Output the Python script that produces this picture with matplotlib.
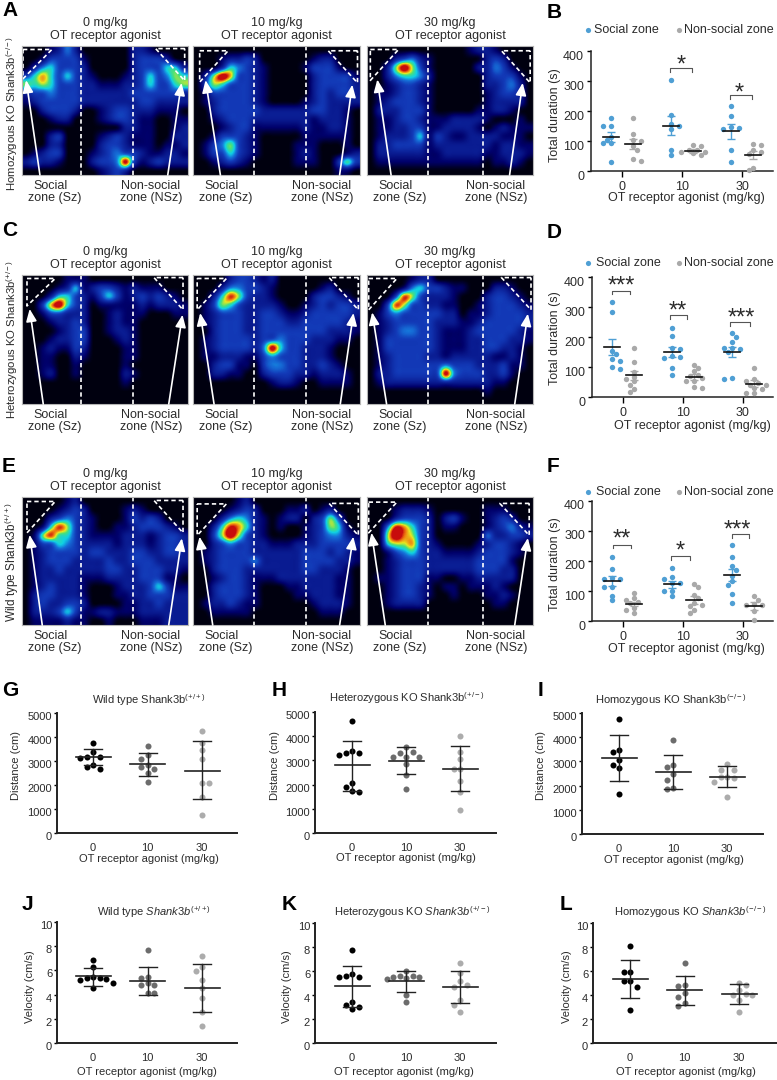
import numpy as np
import matplotlib
matplotlib.use("Agg")
import matplotlib.pyplot as plt
from matplotlib.colors import LinearSegmentedColormap
from matplotlib.transforms import ScaledTranslation

plt.rcParams['font.family'] = ['Liberation Sans', 'DejaVu Sans']
plt.rcParams['mathtext.fontset'] = 'custom'
plt.rcParams['mathtext.rm'] = 'Liberation Sans'
plt.rcParams['mathtext.it'] = 'Liberation Sans:italic'
plt.rcParams['mathtext.default'] = 'regular'

W, H = 777, 1080
TEXT = '#2b2b2b'
BLUE = '#4f9fd4'
GREY = '#a9a9a9'

# occupancy heat maps, read cell by cell, 0 = nothing, 9 = hottest
heat_a0 = ["00012420000002210000", "00133331000002333200", "02453332000002333552",
           "35753532100012353465", "65653332211122353356", "23343332222223333332",
           "12333332222222332222", "00233320012332221110", "00012200012332110011",
           "00000000000022110012", "00023000012321110022", "00022000023321110112",
           "01233000123433211221", "23221000233493123222", "00000000012320000000"]
heat_a10 = ["00000000000000000000", "00012232000000122000", "00025432100001333100",
            "02697332100000233331", "03653332100000233332", "01333332100000232332",
            "01233332100001232222", "00233333222222332210", "00123332222222122210",
            "00012331111112112210", "00133321000001111110", "01346321000011100010",
            "01335321000012100012", "00123210000011100363", "00000000000000000110"]
heat_a30 = ["00000000000012210000", "00023421000000232000", "00269631000002243100",
            "00245542000000233310", "00123321000000223420", "01123321000000123320",
            "01233321000000122220", "02223331000001122100", "01123321112222100010",
            "01122331122221012111", "01222351321122221110", "02233331222222212211",
            "02222221122222112221", "01111111111111011210", "00000000000000000000"]
heat_c0 = ["00000111000000000000", "00001251233212111000", "00025532135312323210",
           "00379532011111212221", "00133222001211100011", "00012232001211000000",
           "00001233001221000000", "00012233000121000000", "00121132000011000000",
           "00110021000011000000", "00110010000010000000", "00120010000021000000",
           "00000000000010000000", "00000000000000000000", "00000000000000000000"]
heat_c10 = ["00002332120000000000", "00024433210000012000", "00258632210000233210",
            "01365322221001232332", "01233322332112333332", "01233322333223333321",
            "00233322333333332221", "01233332334333222110", "01233332495332221000",
            "01122211343332221000", "00233110344332232100", "00221100233322122210",
            "00000000012210011110", "00000000000000000000", "00000000000000000000"]
heat_c30 = ["00000122000000000000", "00001453321100022100", "00038632221000233210",
            "00386332211001233321", "01343333322011233332", "01233333222112333332",
            "01234433211123333321", "01333333211122333221", "01333333211122332210",
            "01233332212222211210", "01233333343332223110", "02233333394333223100",
            "01222222222222211000", "00000000000000100000", "00000000000000000000"]
heat_e0 = ["00000120000000000000", "00001232000012100000", "00023432100013232000",
           "00158632100112333210", "01685532111122212332", "01335432222122212332",
           "01233332332223322332", "01233322223223332222", "01223222223322333221",
           "01222221112222333110", "01232221000122235311", "02332221000112233322",
           "02322332000011223222", "02223531122111222222", "01111211001000111222"]
heat_e10 = ["00000120000000000000", "00001232000112012000", "00024542101220236300",
            "00258752101001236510", "00369632100001234421", "00234332211122233332",
            "01233332222223332321", "01233334222223333221", "00233322222223322210",
            "00123321112222222110", "00233321000112222110", "00233321000011222110",
            "01223211000000122210", "00111110000000011100", "00000000000000000000"]
heat_e30 = ["00000000000000000000", "00012221000000111000", "00023332023100123200",
            "00487532011000123421", "00697632000000422332", "00566732100001233210",
            "00134532211112333210", "00123332222223333100", "00123332222223332200",
            "01123331100112222200", "00123321011011121000", "00123321001000112100",
            "00122220000000011000", "00000000000000000000", "00000000000000000000"]

doses = ['0', '10', '30']

# total duration (s), one list per dose
b_social = [[178, 149, 149, 115, 104, 93, 93, 31], [304, 188, 157, 150, 139, 71, 54], [217, 182, 146, 143, 139, 70, 30]]
b_nonsocial = [[178, 124, 102, 100, 82, 71, 40, 35], [86, 82, 71, 69, 65, 62, 60, 54], [91, 87, 71, 65, 57, 10, 2]]
b_social_mean = [113, 151, 132]
b_social_err = [17, 32, 24]
b_nonsocial_mean = [90, 66, 54]
b_nonsocial_err = [18, 6, 14]

d_social = [[316, 283, 154, 144, 126, 120, 99, 92], [229, 205, 165, 160, 137, 135, 131, 96, 74], [212, 200, 185, 165, 162, 160, 151, 63, 60]]
d_nonsocial = [[163, 116, 85, 68, 61, 52, 41, 28, 17], [106, 98, 87, 74, 69, 65, 52, 52, 32, 30], [96, 61, 55, 46, 41, 41, 30, 28, 13, 13]]
d_social_mean = [167, 150, 150]
d_social_err = [27, 16, 18]
d_nonsocial_mean = [72, 66, 45]
d_nonsocial_err = [15, 10, 11]

f_social = [[213, 174, 143, 141, 141, 115, 113, 85, 69], [176, 148, 141, 126, 126, 99, 99, 82], [254, 212, 184, 171, 151, 132, 121, 91, 59]]
f_nonsocial = [[92, 76, 71, 62, 60, 43, 38, 27], [124, 113, 88, 76, 60, 54, 49, 38, 27], [82, 69, 58, 54, 54, 35, 4]]
f_social_mean = [133, 122, 152]
f_social_err = [16, 11, 20]
f_nonsocial_mean = [58, 70, 50]
f_nonsocial_err = [7, 14, 12]

# distance (cm)
g_values = [[3757, 3384, 3177, 3150, 3135, 2830, 2762, 2650], [3632, 3245, 3066, 2831, 2762, 2650, 2510, 2113], [4240, 3757, 3452, 3080, 2100, 2100, 1520, 732]]
g_mean = [3150, 2860, 2600]
g_upper = [3494, 3328, 3840]
g_lower = [2830, 2390, 1410]
h_values = [[4640, 3407, 3324, 3296, 3227, 2050, 1884, 1745, 1704], [3545, 3365, 3324, 3158, 3130, 3130, 2840, 2396, 1800], [3990, 3338, 3047, 2645, 2645, 2160, 1703, 970]]
h_mean = [2790, 2970, 2660]
h_upper = [3822, 3545, 3615]
h_lower = [1745, 2424, 1731]
i_values = [[4750, 3480, 3383, 3040, 2858, 2720, 1657], [3867, 2831, 2748, 2486, 2237, 1892, 1851], [2886, 2651, 2651, 2375, 2375, 2306, 2168, 1519]]
i_mean = [3130, 2560, 2370]
i_upper = [4074, 3245, 2817]
i_lower = [2196, 1878, 1933]

# velocity (cm/s)
j_values = [[6.87, 6.32, 5.43, 5.40, 5.40, 5.29, 5.21, 4.93, 4.52], [7.65, 5.48, 5.35, 4.93, 4.79, 4.79, 4.16, 4.16], [7.15, 6.32, 5.98, 5.21, 4.52, 3.68, 2.58, 1.39]]
j_mean = [5.5, 5.1, 4.55]
j_upper = [6.23, 6.32, 6.54]
j_lower = [4.74, 3.96, 2.6]
k_values = [[7.75, 5.72, 5.58, 5.47, 5.47, 3.39, 3.17, 2.97, 2.8], [6.0, 5.61, 5.61, 5.53, 5.53, 5.39, 5.31, 4.0, 3.42], [6.64, 5.86, 5.17, 4.83, 4.64, 3.58, 3.17, 2.61]]
k_mean = [4.75, 5.17, 4.7]
k_upper = [6.39, 6.0, 6.03]
k_lower = [3.0, 4.28, 3.3]
l_values = [[8.05, 5.89, 5.89, 5.14, 5.14, 4.67, 2.78], [6.67, 4.86, 4.78, 4.17, 3.83, 3.33, 3.11], [5.0, 4.8, 4.44, 4.1, 4.03, 4.03, 3.6, 2.56]]
l_mean = [5.35, 4.4, 4.08]
l_upper = [6.94, 5.61, 4.94]
l_lower = [3.78, 3.17, 3.28]

# the filter below flattens the peaks a bit, so the warm end of the scale starts lower
heat_cmap = LinearSegmentedColormap.from_list('occupancy', [
    (0 / 9, '#00000f'), (1 / 9, '#00006a'), (2 / 9, '#0a1c92'), (3 / 9, '#1238b6'),
    (3.9 / 9, '#1670d8'), (4.7 / 9, '#10d0e4'), (5.5 / 9, '#48e07c'), (6.2 / 9, '#e8e820'),
    (6.9 / 9, '#f07a10'), (7.6 / 9, '#c80c0c'), (1, '#c80c0c')])

fig = plt.figure(figsize=(W / 100, H / 100), dpi=100)


def px_axes(x0, y0, x1, y1):
    return fig.add_axes([x0 / W, 1 - y1 / H, (x1 - x0) / W, (y1 - y0) / H])


over = fig.add_axes([0, 0, 1, 1], zorder=20)
over.set_xlim(0, W)
over.set_ylim(H, 0)
over.axis('off')


def label(x, y, s, size=9, **kw):
    kw.setdefault('ha', 'center')
    kw.setdefault('va', 'center')
    kw.setdefault('color', TEXT)
    over.text(x, y, s, fontsize=size, **kw)


mids_dose = {22: '0', 193: '10', 367: '30'}


def heat_panel(x0, y0, x1, y1, rows, mids, zl, zr, al, ar):
    ax = px_axes(x0, y0, x1, y1)
    grid = np.array([[int(c) for c in r] for r in rows])
    ax.imshow(grid, cmap=heat_cmap, vmin=0, vmax=9, aspect='auto', interpolation='mitchell',
              extent=(0, 1, 1, 0))
    ax.set_xticks([])
    ax.set_yticks([])
    for s in ax.spines.values():
        s.set_color('#b5b5b5')
        s.set_linewidth(0.8)
    dash = dict(color='white', lw=1.2, dashes=(2.6, 1.8))
    for m in mids:
        ax.plot([m, m], [0, 1], **dash)
    ax.plot([zl[0], zl[1], zl[0], zl[0]], [zl[2], zl[2], zl[3], zl[2]], **dash)
    ax.plot([zr[1], zr[0], zr[1], zr[1]], [zr[2], zr[2], zr[3], zr[2]], **dash)
    for tail, tip, tipy in (al, ar):
        ax.annotate('', xy=(tip, tipy), xytext=(tail, 1),
                    arrowprops=dict(arrowstyle='-|>,head_length=0.75,head_width=0.32', color='white',
                                    lw=1.2, shrinkA=0, shrinkB=0))
    ax.set_xlim(0, 1)
    ax.set_ylim(1, 0)
    # captions
    label((x0 + x1) / 2, y0 - 23, '%s mg/kg' % mids_dose[x0], size=9)
    label((x0 + x1) / 2, y0 - 10, 'OT receptor agonist', size=9)
    label(x0 + 29, y1 + 11, 'Social', size=9)
    label(x0 + 33, y1 + 23, 'zone (Sz)', size=9)
    label(x0 + 129, y1 + 11, 'Non-social', size=9)
    label(x0 + 129, y1 + 23, 'zone (NSz)', size=9)


heat_panel(22, 46, 188, 175, heat_a0, (.354, .669), (.006, .18, .027, .254), (.805, .98, .02, .27), (.108, .025, .265), (.878, .961, .286))
heat_panel(193, 46, 360, 175, heat_a10, (.366, .677), (.04, .21, .037, .28), (.81, .985, .037, .286), (.164, .075, .265), (.878, .954, .30))
heat_panel(367, 46, 533, 175, heat_a30, (.369, .697), (.02, .19, .027, .267), (.81, .983, .037, .286), (.145, .062, .26), (.859, .938, .286))
heat_panel(22, 275, 188, 404, heat_c0, (.354, .669), (.03, .2, .027, .24), (.795, .97, .02, .27), (.128, .046, .263), (.884, .967, .308))
heat_panel(193, 275, 360, 404, heat_c10, (.366, .677), (.025, .2, .027, .27), (.815, .99, .02, .27), (.126, .043, .295), (.882, .961, .295))
heat_panel(367, 275, 533, 404, heat_c30, (.369, .697), (.01, .18, .027, .27), (.81, .988, .02, .27), (.118, .031, .29), (.89, .969, .30))
heat_panel(22, 497, 188, 625, heat_e0, (.354, .669), (.03, .2, .035, .28), (.795, .97, .027, .28), (.122, .046, .296), (.884, .963, .323))
heat_panel(193, 497, 360, 625, heat_e10, (.366, .677), (.025, .2, .054, .3), (.815, .99, .05, .3), (.118, .039, .31), (.878, .96, .31))
heat_panel(367, 497, 533, 625, heat_e30, (.369, .697), (.01, .18, .04, .28), (.8, .977, .05, .3), (.11, .027, .28), (.89, .969, .32))

label(12, 113, 'Homozygous KO Shank3b$^{(-/-)}$', size=8.2, rotation=90)
label(12, 339, 'Heterozygous KO Shank3b$^{(+/-)}$', size=8.2, rotation=90)
label(12, 562, 'Wild type Shank3b$^{(+/+)}$', size=8.5, rotation=90)


def swarm(values, px_per_unit, dist, step):
    # greedy beeswarm, dots keep at least dist pixels apart
    placed = []
    off = []
    for n, v in enumerate(values):
        tries = [0]
        for k in range(1, 9):
            sign = 1 if n % 2 else -1
            tries += [sign * k * step, -sign * k * step]
        for t in tries:
            if all((t - a) ** 2 + ((v - b) * px_per_unit) ** 2 >= dist ** 2 for a, b in placed):
                break
        placed.append((t, v))
        off.append(t)
    return np.array(off)


def shift_ticks(ax, dy):
    tr = ScaledTranslation(0, -dy / 100, fig.dpi_scale_trans)
    for t in ax.get_yticklabels():
        t.set_transform(t.get_transform() + tr)


def duration_panel(xa, y400, y0, social, nonsocial, sm, se, nm, ne, brackets):
    t0, sp = xa + 31, 60
    ax = px_axes(xa, y400, 773, y0)
    ax.set_xlim(-31 / sp, (773 - t0) / sp)
    ax.set_ylim(0, 400)
    for sign, data, mean, err, col in ((-1, social, sm, se, BLUE), (1, nonsocial, nm, ne, GREY)):
        for i in range(3):
            cx = i + sign * 0.19
            ax.scatter(cx + swarm(data[i], 0.3, 4.6, 4) / sp, data[i], s=15, color=col, lw=0, clip_on=False, zorder=3)
            ax.errorbar([cx], [mean[i]], yerr=[err[i]], color=col, lw=1.0, capsize=2.6, capthick=1.0, zorder=4)
            ax.plot([cx - 8 / sp, cx + 8 / sp], [mean[i], mean[i]], color='#111111', lw=1.2, zorder=5)
    for left, right, top, low, stars, sx, sy in brackets:
        ax.plot([left, left, right, right], [low, top, top, low], color='#555555', lw=0.8)
        ax.text(sx, sy - 16, stars, ha='center', va='center', fontsize=17, color=TEXT)
    for s in ('top', 'right'):
        ax.spines[s].set_visible(False)
    for s in ('left', 'bottom'):
        ax.spines[s].set_linewidth(1.1)
        ax.spines[s].set_color('#222222')
    ax.set_xticks([0, 1, 2], doses)
    ax.set_yticks([0, 100, 200, 300, 400])
    ax.tick_params(axis='x', length=4, width=1, labelsize=9, pad=3, labelcolor=TEXT)
    ax.tick_params(axis='y', length=3, width=1, labelsize=9, pad=2, labelcolor=TEXT)
    shift_ticks(ax, 4)
    ax.patch.set_alpha(0)


duration_panel(591, 51, 171, b_social, b_nonsocial, b_social_mean, b_social_err, b_nonsocial_mean, b_nonsocial_err,
               [(.806, 1.167, 345, 330, '*', .99, 369), (1.806, 2.167, 253, 240, '*', 1.95, 275)])
duration_panel(592, 277, 397, d_social, d_nonsocial, d_social_mean, d_social_err, d_nonsocial_mean, d_nonsocial_err,
               [(-.18, .12, 354, 343, '***', -.03, 384), (.78, 1.067, 273, 260, '**', .92, 301), (1.78, 2.12, 249, 236, '***', 1.97, 276)])
duration_panel(592, 501, 621, f_social, f_nonsocial, f_social_mean, f_social_err, f_nonsocial_mean, f_nonsocial_err,
               [(-.17, .13, 255, 242, '**', -.02, 287), (.8, 1.11, 217, 204, '*', .95, 248), (1.81, 2.1, 290, 277, '***', 1.91, 318)])

for y_top, cy, cx in ((30, 115, 686), (263, 338, 692), (492, 564, 686)):
    over.scatter([588], [y_top], s=14, color=BLUE, lw=0)
    over.scatter([679], [y_top], s=14, color=GREY, lw=0)
    label(594 if y_top == 30 else 596, y_top, 'Social zone', size=9, ha='left')
    label(684, y_top, 'Non-social zone', size=9, ha='left')
    label(555, cy, 'Total duration (s)', size=9, rotation=90)
    label(cx, y_top + 168 if y_top == 30 else (y_top + 163 if y_top == 263 else y_top + 157),
          'OT receptor agonist (mg/kg)', size=9)


def spread_panel(xa, ytop, y0, xend, ticks, values, mean, upper, lower, ymax, yticks):
    sp = (ticks[2] - ticks[0]) / 2
    ax = px_axes(xa, ytop, xend, y0)
    ax.set_xlim((xa - ticks[0]) / sp, (xend - ticks[0]) / sp)
    ax.set_ylim(0, ymax)
    shades = ('#000000', '#6c6c6c', '#acacac')
    for i in range(3):
        ax.scatter(i + swarm(values[i], 120 / ymax, 6.5, 6.5) / sp, values[i], s=19, color=shades[i], lw=0, clip_on=False, zorder=3)
        ax.plot([i, i], [lower[i], upper[i]], color='#222222', lw=1.0, zorder=4)
        ax.plot([i - 17.5 / sp, i + 17.5 / sp], [mean[i], mean[i]], color='#222222', lw=1.2, zorder=4)
        for e in (lower[i], upper[i]):
            ax.plot([i - 9 / sp, i + 9 / sp], [e, e], color='#222222', lw=1.0, zorder=4)
    for s in ('top', 'right'):
        ax.spines[s].set_visible(False)
    for s in ('left', 'bottom'):
        ax.spines[s].set_linewidth(1.4)
        ax.spines[s].set_color('#222222')
    ax.set_xticks([0, 1, 2], doses)
    ax.set_yticks(yticks)
    ax.tick_params(axis='x', length=0, labelsize=8, pad=7, labelcolor=TEXT)
    ax.tick_params(axis='y', length=2.5, width=1, labelsize=8, pad=1, labelcolor=TEXT)
    shift_ticks(ax, 3)
    ax.patch.set_alpha(0)


dist_ticks = [0, 1000, 2000, 3000, 4000, 5000]
vel_ticks = [0, 2, 4, 6, 8, 10]
spread_panel(57, 713, 833, 237, (93, 147, 202), g_values, g_mean, g_upper, g_lower, 5000, dist_ticks)
spread_panel(315, 712, 833, 496, (352, 406, 460), h_values, h_mean, h_upper, h_lower, 5000, dist_ticks)
spread_panel(582, 713, 834, 763, (619, 674, 727), i_values, i_mean, i_upper, i_lower, 5000, dist_ticks)
spread_panel(57, 922, 1043, 237, (93, 147, 202), j_values, j_mean, j_upper, j_lower, 10, vel_ticks)
spread_panel(315, 923, 1043, 496, (352, 406, 460), k_values, k_mean, k_upper, k_lower, 10, vel_ticks)
spread_panel(593, 923, 1043, 777, (630, 685, 739), l_values, l_mean, l_upper, l_lower, 10, vel_ticks)

label(149, 700, 'Wild type Shank3b$^{(+/+)}$', size=8)
label(407, 698, 'Heterozygous KO Shank3b$^{(+/-)}$', size=8)
label(671, 700, 'Homozygous KO Shank3b$^{(-/-)}$', size=8)
label(154, 912, r'Wild type $\mathit{Shank3b^{(+/+)}}$', size=8)
label(412, 912, r'Heterozygous KO $\mathit{Shank3b^{(+/-)}}$', size=8)
label(690, 912, r'Homozygous KO $\mathit{Shank3b^{(-/-)}}$', size=8)

for x, y in ((149, 859), (406, 858), (674, 860), (147, 1072), (404, 1072), (686, 1072)):
    label(x, y, 'OT receptor agonist (mg/kg)', size=8)
for x, y in ((16, 765), (275, 765), (541, 766)):
    label(x, y, 'Distance (cm)', size=8, rotation=90)
for x, y in ((30, 987), (287, 987), (567, 987)):
    label(x, y, 'Velocity (cm/s)', size=8, rotation=90)

letters = [('A', 2, 11), ('B', 547, 12), ('C', 2, 231), ('D', 547, 232), ('E', 2, 466), ('F', 547, 466),
           ('G', 2, 691), ('H', 272, 691), ('I', 538, 691), ('J', 22, 904), ('K', 282, 904), ('L', 560, 904)]
for s, x, y in letters:
    label(x, y, s, size=15, ha='left', fontweight='bold', color='black')

fig.savefig('out.png', dpi=100)
